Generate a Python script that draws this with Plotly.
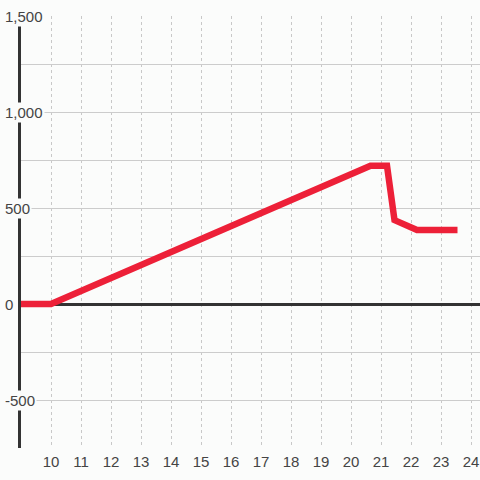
import plotly.graph_objects as go

x_vals = [9, 10, 20.65, 21.2, 21.45, 22.2, 23.55]
y_vals = [0, 0, 720, 720, 437, 385, 385]
x_ticks = list(range(10, 25))
y_label_vals = [1500, 1000, 500, 0, -500]
y_label_text = ["1,500", "1,000", "500", "0", "-500"]

BG = "#fbfcfb"
FONT = "Liberation Sans, Arial, sans-serif"

fig = go.Figure()
fig.add_trace(go.Scatter(x=x_vals, y=y_vals, mode="lines",
                         line=dict(color="#ed2038", width=6.5),
                         hoverinfo="skip", cliponaxis=False))

fig.update_layout(
    width=480, height=480,
    margin=dict(l=21, r=0, t=16, b=32, autoexpand=False),
    paper_bgcolor=BG, plot_bgcolor=BG,
    showlegend=False,
    font=dict(family=FONT, size=15, color="#444"),
    xaxis=dict(range=[9, 24.3], tickvals=x_ticks, ticktext=[str(v) for v in x_ticks],
               showgrid=True, gridcolor="#c8c8c8", griddash="dot", gridwidth=1,
               zeroline=False, showline=False, ticks="", ticklabelstandoff=3,
               automargin=False, fixedrange=True),
    yaxis=dict(range=[-750, 1500], dtick=250, tick0=0, showticklabels=False,
               showgrid=True, gridcolor="#cccccc", gridwidth=1,
               zeroline=True, zerolinecolor="#333333", zerolinewidth=3,
               showline=True, linecolor="#333333", linewidth=3, ticks="",
               automargin=False, fixedrange=True),
)

for v, t in zip(y_label_vals, y_label_text):
    fig.add_annotation(xref="paper", yref="y", x=-18/459, y=v, text=t,
                       showarrow=False, xanchor="left", yanchor="middle",
                       bgcolor=BG, borderpad=1,
                       font=dict(family=FONT, size=15, color="#444"))

fig.write_html("out.html", config={"displayModeBar": False},
               post_script="document.body.style.margin='0';document.body.style.overflow='hidden';")
